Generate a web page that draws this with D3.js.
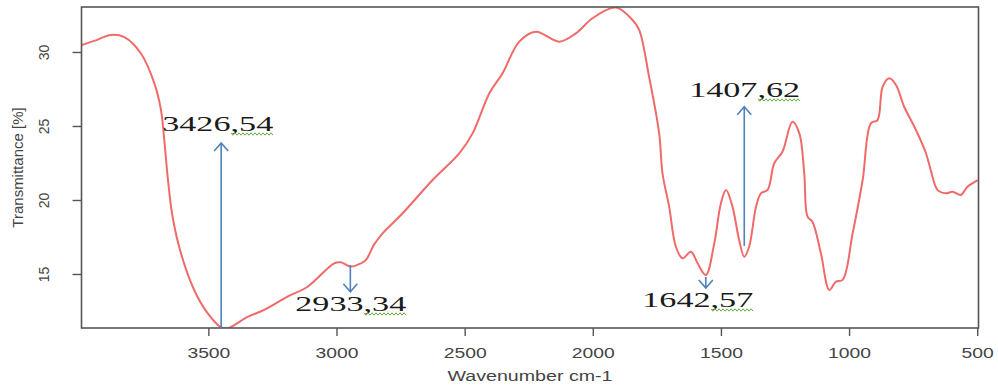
<!DOCTYPE html>
<html>
<head>
<meta charset="utf-8">
<script src="https://cdn.jsdelivr.net/npm/d3@7"></script>
<style>
  body { margin: 0; background: #fff; }
  svg { display: block; }
</style>
</head>
<body>
<svg id="chart"></svg>
<script>
const W = 998;
const H = 387;
const LEFT = 81.5;
const RIGHT = 978.5;
const TOP = 7;
const BOTTOM = 328;

// spectrum
const wavenumbers = [3995, 3945, 3880, 3828, 3763, 3711, 3685, 3672, 3659, 3640, 3607, 3555, 3503, 3451, 3425,
  3347, 3282, 3191, 3113, 3009, 2983, 2944, 2905, 2885, 2853, 2820, 2742, 2625, 2521, 2469, 2404, 2352, 2287,
  2222, 2131, 2066, 2001, 1910, 1845, 1819, 1780, 1741, 1728, 1702, 1676, 1650, 1617, 1591, 1559, 1526, 1500,
  1480, 1455, 1429, 1409, 1390, 1363, 1344, 1318, 1292, 1260, 1221, 1194, 1175, 1162, 1143, 1110, 1077, 1051,
  1025, 986, 947, 915, 889, 869, 843, 817, 785, 739, 700, 681, 655, 622, 596, 564, 538, 498];
const transmittance = [30.47, 30.75, 31.15, 31.0, 29.9, 27.9, 26.1, 24.05, 21.6, 18.9, 16.4, 13.9, 12.35, 11.4, 11.33,
  12.1, 12.57, 13.47, 14.14, 15.72, 15.79, 15.5, 15.72, 15.95, 17.0, 17.75, 19.1, 21.35, 23.15, 24.5, 27.2, 28.56, 30.7,
  31.37, 30.7, 31.26, 32.28, 33.0, 32.16, 31.5, 28.3, 24.5, 21.8, 19.55, 16.85, 16.06, 16.5, 15.72, 14.93, 17.07, 19.78,
  20.68, 19.55, 17.3, 16.17, 16.84, 19.55, 20.45, 20.68, 22.48, 23.26, 25.29, 24.5, 21.8, 18.87, 18.53, 16.4, 13.92, 14.48,
  14.6, 17.75, 21.35, 25.18, 25.4, 27.65, 28.22, 27.77, 26.3, 24.73, 23.16, 22.0, 20.68, 20.45, 20.56, 20.34, 20.9, 21.35];

const xTicks = [3500, 3000, 2500, 2000, 1500, 1000, 500];
const yTicks = [15, 20, 25, 30];

// peak annotations
const peakLabels = ["3426,54", "2933,34", "1642,57", "1407,62"];
const arrowAt = [3450, 2946, 1559, 1409];
const arrowFrom = [11.35, 15.6, 14.8, 16.9];
const arrowTo = [23.85, 13.8, 14.05, 26.3];
const labelAt = [3680, 3161, 1807, 1624];
const labelBase = [24.66, 12.5, 12.77, 26.96];

const svg = d3.select("#chart").attr("width", W).attr("height", H);

const x = d3.scaleLinear().domain([3995, 495]).range([LEFT, RIGHT]);
const y = d3.scaleLinear().domain([11.35, 33.04]).range([BOTTOM, TOP]);

svg.append("clipPath")
  .attr("id", "plot-clip")
  .append("rect")
  .attr("x", LEFT)
  .attr("y", TOP)
  .attr("width", RIGHT - LEFT)
  .attr("height", BOTTOM - TOP);

const spectrum = wavenumbers.map((w, i) => ({ w, t: transmittance[i] }));

const line = d3.line()
  .x(d => x(d.w))
  .y(d => y(d.t))
  .curve(d3.curveCatmullRom.alpha(0.5));

svg.append("path")
  .datum(spectrum)
  .attr("clip-path", "url(#plot-clip)")
  .attr("fill", "none")
  .attr("stroke", "#f06a6a")
  .attr("stroke-width", 2)
  .attr("d", line);

// box
svg.append("rect")
  .attr("x", LEFT)
  .attr("y", TOP)
  .attr("width", RIGHT - LEFT)
  .attr("height", BOTTOM - TOP)
  .attr("fill", "none")
  .attr("stroke", "#555")
  .attr("stroke-width", 1.6);

const axisColor = "#444";

const xAxis = svg.append("g")
  .attr("transform", `translate(0, ${BOTTOM})`)
  .call(d3.axisBottom(x).tickValues(xTicks).tickSize(8).tickPadding(12).tickFormat(d3.format("d")));
xAxis.select(".domain").remove();
xAxis.selectAll("line").attr("stroke", "#555").attr("stroke-width", 1.4);
xAxis.selectAll("text")
  .attr("fill", axisColor)
  .style("font-family", "'Liberation Sans', Arial, sans-serif")
  .style("font-size", "14px")
  .each(function () {
    this.setAttribute("textLength", this.getComputedTextLength() * 1.38);
    this.setAttribute("lengthAdjust", "spacingAndGlyphs");
  });

const yAxis = svg.append("g")
  .attr("transform", `translate(${LEFT}, 0)`)
  .call(d3.axisLeft(y).tickValues(yTicks).tickSize(9).tickFormat(d3.format("d")));
yAxis.select(".domain").remove();
yAxis.selectAll("line").attr("stroke", "#555").attr("stroke-width", 1.4);
yAxis.selectAll("text")
  .attr("fill", axisColor)
  .attr("x", null)
  .attr("dy", null)
  .attr("text-anchor", "middle")
  .attr("transform", "translate(-38, 0) rotate(-90)")
  .attr("y", 5)
  .style("font-family", "'Liberation Sans', Arial, sans-serif")
  .style("font-size", "14px");

svg.append("text")
  .attr("x", (LEFT + RIGHT) / 2)
  .attr("y", 381)
  .attr("text-anchor", "middle")
  .attr("fill", axisColor)
  .attr("textLength", 165)
  .attr("lengthAdjust", "spacingAndGlyphs")
  .style("font-family", "'Liberation Sans', Arial, sans-serif")
  .style("font-size", "14px")
  .text("Wavenumber cm-1");

svg.append("text")
  .attr("transform", `translate(23, ${(TOP + BOTTOM) / 2}) rotate(-90)`)
  .attr("text-anchor", "middle")
  .attr("fill", axisColor)
  .style("font-family", "'Liberation Sans', Arial, sans-serif")
  .style("font-size", "15px")
  .text("Transmittance [%]");

// arrows
const arrowColor = "#4f81bd";
peakLabels.forEach((label, i) => {
  const ax = x(arrowAt[i]);
  const y0 = y(arrowFrom[i]);
  const y1 = y(arrowTo[i]);
  const dir = y1 < y0 ? 1 : -1;

  svg.append("line")
    .attr("x1", ax).attr("x2", ax)
    .attr("y1", y0).attr("y2", y1)
    .attr("stroke", arrowColor)
    .attr("stroke-width", 1.6);

  svg.append("path")
    .attr("d", `M${ax - 7},${y1 + dir * 8} L${ax},${y1} L${ax + 7},${y1 + dir * 8}`)
    .attr("fill", "none")
    .attr("stroke", arrowColor)
    .attr("stroke-width", 1.6);

  const lx = x(labelAt[i]);
  const ly = y(labelBase[i]);
  const len = 111;

  svg.append("text")
    .attr("x", lx)
    .attr("y", ly)
    .attr("fill", "#1a1a1a")
    .attr("textLength", len)
    .attr("lengthAdjust", "spacingAndGlyphs")
    .style("font-family", "'Liberation Serif', 'DejaVu Serif', serif")
    .style("font-size", "22px")
    .text(label);

  // spell-check squiggle under the decimals
  const sx0 = lx + len * 0.62;
  const sx1 = lx + len;
  const pts = d3.range(sx0, sx1, 2).map((px, k) => [px, ly + 3 + (k % 2 ? 1.2 : -1.2)]);
  svg.append("path")
    .attr("d", d3.line()(pts))
    .attr("fill", "none")
    .attr("stroke", "#6aaa3a")
    .attr("stroke-width", 1);
});
</script>
</body>
</html>
